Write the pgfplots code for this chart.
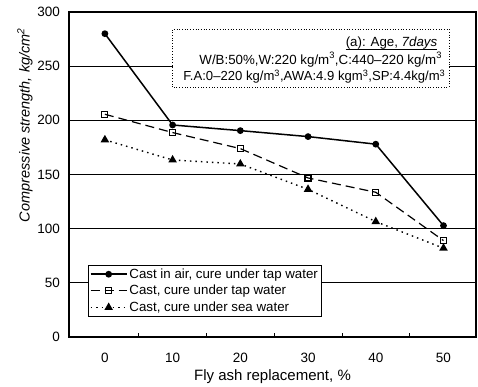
\documentclass[border=0pt]{standalone}
\usepackage{pgfplots}
\pgfplotsset{compat=1.18}
\usepackage{fontspec}
\setmainfont{Liberation Sans}
\begin{document}
\begin{tikzpicture}
\begin{axis}[
  name=ax,
  scale only axis,
  width=407pt, height=325pt,
  xmin=-5.3, xmax=54.8,
  ymin=0, ymax=300,
  xtick={0,10,...,50},
  ytick={0,50,...,300},
  minor xtick={5,15,25,35,45},
  major tick length=0pt,
  minor tick length=4pt,
  tick pos=left,
  ymajorgrids,
  major grid style={black, line width=0.7pt},
  minor tick style={black, line width=0.8pt},
  axis line style={black, line width=1.3pt},
  /pgf/number format/assume math mode=true,
  ticklabel style={font=\fontsize{13.5}{16}\selectfont},
  xticklabel style={yshift=-13pt},
  yticklabel style={xshift=-5.5pt},
  xlabel={Fly ash replacement, \%},
  ylabel={Compressive strength, kg/cm\textsuperscript{2}},
  xlabel style={font=\fontsize{15}{17}\selectfont, at={(axis description cs:0.5,-0.123)}, anchor=center},
  ylabel style={font=\fontsize{14.5}{17}\selectfont\itshape, at={(axis description cs:-0.108,0.652)}, anchor=center, rotate=0},
  legend image code/.code={\draw[mark repeat=2,mark phase=2] plot coordinates {(0pt,0pt) (18pt,0pt) (36pt,0pt)};},
  legend cell align=left,
  legend style={at={(axis description cs:0.047,0.222)}, anchor=north west, draw=black, line width=0.6pt,
    font=\fontsize{13.3}{15}\selectfont, row sep=1.5pt, inner sep=1.5pt},
]
\addplot[black, line width=1.5pt, mark=*, mark size=2.6pt, mark options={solid}]
  coordinates {(0,280) (10,195.7) (20,190.5) (30,185) (40,178) (50,102.8)};
\addlegendentry{Cast in air, cure under tap water}
\addplot[black, line width=1.2pt, dash pattern=on 9pt off 5pt, mark=square, mark size=3pt, mark options={solid, fill=white, line width=1.2pt}]
  coordinates {(0,205.6) (10,188.7) (20,173.9) (30,146.8) (40,133.6) (50,89)};
\addlegendentry{Cast, cure under tap water}
\addplot[black, line width=1.4pt, dash pattern=on 1.5pt off 4pt, mark=triangle*, mark size=3.6pt, mark options={solid}]
  coordinates {(0,182) (10,163.4) (20,159.7) (30,136.3) (40,106.5) (50,82)};
\addlegendentry{Cast, cure under sea water}
\draw[black, dotted, line width=0.7pt, fill=white] (axis cs:10,230.8) rectangle (axis cs:50.8,284.4);
\node[inner sep=0pt, anchor=base east, font=\fontsize{13.3}{16}\selectfont] (t1) at (axis cs:49.1,267.8) {(a): Age, \textit{7days}};
\draw[black, line width=0.8pt] ([yshift=-2.5pt]t1.base west) -- ([yshift=-2.5pt]t1.base east);
\node[inner sep=0pt, anchor=base east, font=\fontsize{13.3}{16}\selectfont] at (axis cs:49.8,252)
  {W/B:50\%,W:220 kg/m\textsuperscript{3},C:440--220 kg/m\textsuperscript{3}};
\node[inner sep=0pt, anchor=base east, font=\fontsize{13.1}{16}\selectfont] at (axis cs:50.3,236.4)
  {F.A:0--220 kg/m\textsuperscript{3},AWA:4.9 kgm\textsuperscript{3},SP:4.4kg/m\textsuperscript{3}};
\end{axis}
\pgfresetboundingbox
\path[use as bounding box] ([xshift=-69pt,yshift=-49pt]ax.south west) rectangle ([xshift=2pt,yshift=12pt]ax.north east);
\end{tikzpicture}
\end{document}
